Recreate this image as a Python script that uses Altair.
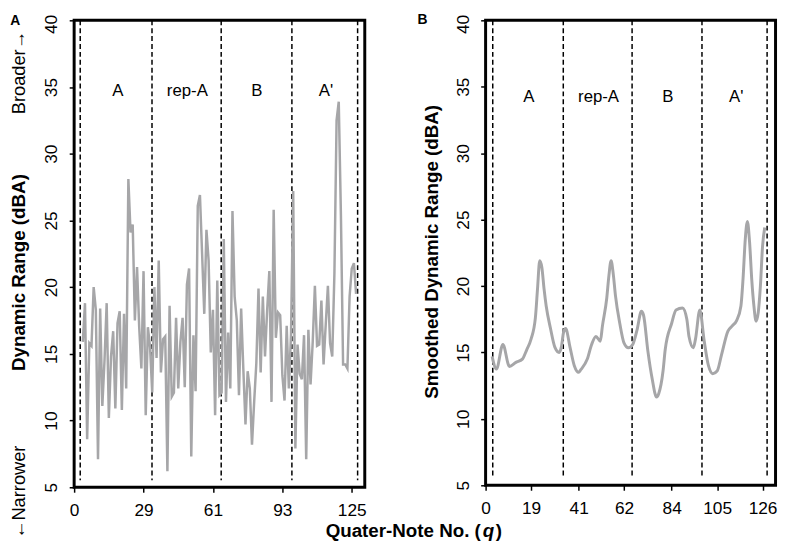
import altair as alt
import pandas as pd

# ---------------- data ----------------
q_raw = list(range(1, 128))
dr_raw = [
    15.9, 18.8, 8.6, 15.8, 15.6, 20.0, 18.3, 7.1, 18.4, 11.1,
    14.5, 18.8, 10.2, 14.8, 16.7, 10.9, 17.3, 18.2, 10.8, 18.0,
    12.4, 28.1, 24.1, 24.7, 17.5, 21.5, 17.0, 13.9, 21.2, 10.4,
    17.0, 15.5, 12.1, 20.0, 14.7, 22.0, 13.6, 16.1, 16.3, 6.2,
    18.6, 11.8, 12.1, 17.7, 12.4, 15.9, 17.7, 12.5, 20.2, 21.4,
    7.3, 16.4, 12.2, 26.1, 26.9, 22.5, 18.0, 24.3, 22.0, 15.1,
    18.3, 10.4, 20.5, 11.9, 12.1, 23.6, 11.4, 16.6, 12.4, 25.7,
    19.3, 17.5, 11.9, 18.4, 13.9, 9.7, 13.7, 12.4, 8.2, 11.4,
    14.3, 19.9, 13.6, 19.3, 14.8, 18.3, 21.2, 11.4, 25.8, 16.2,
    18.1, 17.9, 13.4, 11.5, 17.1, 12.4, 16.5, 27.2, 7.9, 15.7,
    13.5, 13.1, 16.4, 7.1, 16.8, 12.7, 15.9, 20.1, 15.6, 15.7,
    19.0, 14.2, 17.2, 20.1, 15.8, 14.8, 21.0, 32.5, 33.9, 25.4,
    14.2, 14.2, 13.9, 19.3, 21.4, 21.8, 19.5,
]

q_smooth = [1, 3, 6, 9, 12, 15, 17, 19, 21, 22, 23, 24, 25, 26, 28, 30, 32, 33,
            34, 35, 37, 39, 41, 42, 45, 47, 49, 51, 52, 54, 55, 56, 57, 58, 60,
            62, 64, 66, 68, 70, 71, 73, 75, 77, 78, 80, 81, 84, 86, 89, 91, 92,
            94, 95, 97, 99, 101, 103, 105, 107, 110, 112, 114, 116, 117, 118,
            119, 120, 121, 122, 123, 124, 125, 126, 127]
dr_smooth = [14.7, 13.75, 15.6, 13.95, 14.25, 14.5, 15.2, 16.0, 17.6, 19.8, 21.9,
             21.4, 19.8, 18.5, 16.8, 15.4, 15.0, 15.4, 16.5, 16.8, 15.4, 14.0,
             13.5, 13.7, 14.5, 15.6, 16.2, 15.85, 17.0, 19.1, 20.8, 21.9, 20.9,
             19.3, 17.2, 15.7, 15.35, 15.6, 16.7, 18.1, 17.8, 15.1, 13.0, 11.65,
             11.9, 13.6, 15.2, 17.2, 18.2, 18.35, 17.5, 16.2, 15.35, 16.0, 18.2,
             15.9, 14.0, 13.4, 13.6, 14.8, 16.6, 17.0, 17.4, 18.5, 20.6, 23.5,
             24.85, 23.3, 20.5, 18.5, 17.35, 18.0, 20.0, 23.0, 24.4]

section_names = ["A", "rep-A", "B", "A'"]
section_q_a = [17.2, 49.2, 81.2, 113.1]
section_q_b = [18.0, 50.2, 82.2, 113.8]
section_level = [34.7, 34.2]

bounds_a = [-0.2, 32.9, 64.8, 97.4, 127.7]
bounds_b = [1.3, 33.9, 65.7, 98.0, 128.1]

ticks_a = [-3, 29, 61, 93, 125]
tick_labels_a = ["0", "29", "61", "93", "125"]
ticks_b = [-2, 19, 41, 62, 84, 105, 126]
tick_labels_b = ["0", "19", "41", "62", "84", "105", "126"]
y_ticks = [5, 10, 15, 20, 25, 30, 35, 40]

# ---------------- styling ----------------
FONT = "Liberation Sans"
GRAY = "#a6a6a8"
W_A, H_A = 294.4, 473
W_B, H_B = 293.7, 471


def label_expr(vals, labels):
    expr = "datum.label"
    for v, l in zip(vals, labels):
        expr = f"datum.value == {v} ? '{l}' : ({expr})"
    return expr


def x_axis(vals, labels):
    return alt.Axis(
        values=vals, labelExpr=label_expr(vals, labels), title=None,
        grid=False, domain=False, ticks=True, tickSize=5, tickWidth=1.5,
        tickColor="black", labelFont=FONT, labelFontSize=17.5,
        labelColor="black", labelPadding=9.5, labelFlush=False,
        labelAngle=0, labelBaseline="top", labelAlign="center",
        labelOverlap=False,
    )


def y_axis(title, title_x, title_y):
    return alt.Axis(
        values=y_ticks, title=title, titleX=title_x, titleY=title_y,
        titleAngle=270, titleAlign="center", titleBaseline="alphabetic",
        titleFont=FONT, titleFontSize=19, titleFontWeight="bold",
        titleColor="black", grid=False, domain=False, tickSize=5,
        tickWidth=1.5, tickColor="black", labelFont=FONT,
        labelFontSize=17.5, labelColor="black", labelAngle=270,
        labelBaseline="alphabetic",
        labelAlign={"condition": {"test": "datum.value == 40", "value": "right"},
                    "value": "center"},
        labelOffset={"condition": {"test": "datum.value == 40", "value": -6},
                     "value": 0},
        labelPadding=12.8, labelFlush=False, labelOverlap=False,
    )


def pixel_text(text, x, y, **kw):
    return alt.Chart(pd.DataFrame({"t": [text]})).mark_text(font=FONT, color="black", **kw).encode(
        x=alt.value(x), y=alt.value(y), text="t:N"
    )


def panel(qs, vals, domain, ticks, labels, ytitle, tx, ty, bounds, sec_q, sec_y,
          width, height, line_width, interp):
    x = alt.X("q:Q", scale=alt.Scale(domain=domain, nice=False, zero=False),
              axis=x_axis(ticks, labels))
    y = alt.Y("dr:Q", scale=alt.Scale(domain=[5, 40], nice=False, zero=False),
              axis=y_axis(ytitle, tx, ty))
    rules = alt.Chart(pd.DataFrame({"q": bounds})).mark_rule(
        color="black", strokeWidth=1.5, strokeDash=[5, 3]
    ).encode(x=x, y=alt.value(0), y2=alt.value(height - 7))
    line = alt.Chart(pd.DataFrame({"q": qs, "dr": vals})).mark_line(
        color=GRAY, strokeWidth=line_width, interpolate=interp
    ).encode(x=x, y=y)
    secs = alt.Chart(pd.DataFrame({"q": sec_q, "dr": [sec_y] * len(sec_q),
                                   "name": section_names})).mark_text(
        font=FONT, fontSize=17, color="black", baseline="middle"
    ).encode(x=x, y=y, text="name:N")
    return [rules, line, secs]


layers_a = panel(q_raw, dr_raw, [-3, 131], ticks_a, tick_labels_a,
                 "Dynamic Range (dBA)", -50, 255, bounds_a, section_q_a,
                 section_level[0], W_A, H_A, 2.5, "linear")
layers_a += [
    pixel_text("A", -64.8, 5, fontSize=14, fontWeight="bold", align="left", baseline="alphabetic"),
    pixel_text("Broader\u2192", -50, 53, fontSize=18.5, angle=270, align="center", baseline="alphabetic"),
    pixel_text("\u2190Narrower", -50, 478, fontSize=18.5, angle=270, align="center", baseline="alphabetic"),
    pixel_text("Quater-Note No. (", 412, 523, fontSize=19, fontWeight="bold", align="right", baseline="alphabetic"),
    pixel_text("q", 414, 523, fontSize=19, fontWeight="bold", fontStyle="italic", align="left", baseline="alphabetic"),
    pixel_text(")", 427, 523, fontSize=19, fontWeight="bold", align="left", baseline="alphabetic"),
]
panel_a = alt.layer(*layers_a).properties(width=W_A, height=H_A)

layers_b = panel(q_smooth, dr_smooth, [-2, 132], ticks_b, tick_labels_b,
                 "Smoothed Dynamic Range (dBA)", -48.3, 234, bounds_b, section_q_b,
                 section_level[1], W_B, H_B, 3, "monotone")
layers_b += [
    pixel_text("B", -69, 3.5, fontSize=14, fontWeight="bold", align="left", baseline="alphabetic"),
]
panel_b = alt.layer(*layers_b).properties(width=W_B, height=H_B)

chart = alt.hconcat(panel_a, panel_b, spacing=121.8, bounds="flush").properties(
    padding=0
).configure_view(stroke="black", strokeWidth=3)

chart.save("out.html", embed_options={"renderer": "svg", "actions": False})
